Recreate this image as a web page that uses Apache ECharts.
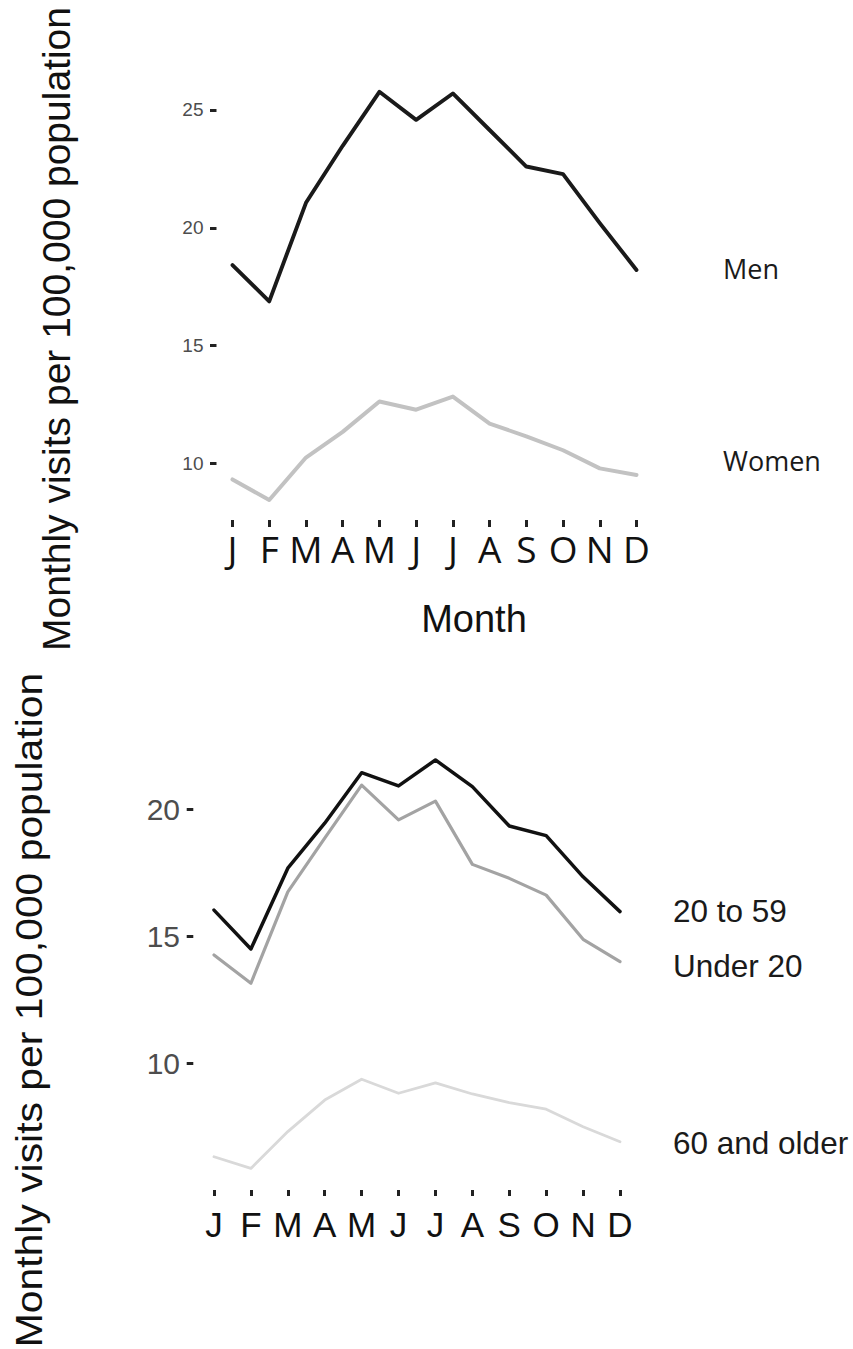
<!DOCTYPE html>
<html>
<head>
<meta charset="utf-8">
<script src="https://cdn.jsdelivr.net/npm/echarts@6/dist/echarts.min.js"></script>
<style>
  html, body { margin: 0; padding: 0; background: #fff; }
  #chart { width: 853px; height: 1349px; }
</style>
</head>
<body>
<div id="chart"></div>
<script>
// Month initials shared by both panels
const months = ['J', 'F', 'M', 'A', 'M', 'J', 'J', 'A', 'S', 'O', 'N', 'D'];

// Upper panel: visits by sex
const men   = [18.42, 16.88, 21.06, 23.48, 25.77, 24.58, 25.70, 24.15, 22.60, 22.28, 20.20, 18.21];
const women = [9.32, 8.45, 10.25, 11.34, 12.63, 12.28, 12.84, 11.69, 11.15, 10.56, 9.79, 9.51];
const topTicks = [10, 15, 20, 25];

// Lower panel: visits by age group
const age20to59   = [16.02, 14.49, 17.67, 19.44, 21.43, 20.91, 21.93, 20.88, 19.33, 18.95, 17.33, 15.96];
const under20     = [14.25, 13.14, 16.74, 18.85, 20.94, 19.57, 20.31, 17.82, 17.27, 16.61, 14.87, 13.99];
const age60plus   = [6.31, 5.85, 7.30, 8.54, 9.36, 8.81, 9.22, 8.78, 8.44, 8.18, 7.49, 6.90];
const bottomTicks = [10, 15, 20];

const yTitle = 'Monthly visits per 100,000 population';
const sans = '"Liberation Sans", Arial, sans-serif';
const humanist = '"Open Sans", sans-serif';

const chart = echarts.init(document.getElementById('chart'), null, { renderer: 'svg' });

function xAxisFor(gridIndex, font, size, margin, tickLen) {
  return {
    gridIndex, type: 'category', data: months, boundaryGap: false,
    axisLine: { show: false },
    axisTick: { show: true, length: tickLen, lineStyle: { color: '#222', width: 3 } },
    axisLabel: { interval: 0, margin, fontFamily: font, fontSize: size, color: '#111' },
    splitLine: { show: false }
  };
}

function yAxisFor(gridIndex, min, max, ticks, offset, size, margin, tickLen) {
  return {
    gridIndex, type: 'value', min, max, offset,
    axisLine: { show: false },
    axisTick: { show: true, length: tickLen, customValues: ticks, lineStyle: { color: '#222', width: 3 } },
    axisLabel: { customValues: ticks, margin, fontFamily: sans, fontSize: size, color: '#4d4d4d' },
    splitLine: { show: false }
  };
}

function line(name, data, xi, color, width) {
  return {
    name, type: 'line', data, xAxisIndex: xi, yAxisIndex: xi,
    symbol: 'none', smooth: false, silent: true,
    lineStyle: { color, width, cap: 'round', join: 'round' }
  };
}

function label(text, x, y, font, size, extra) {
  return Object.assign({
    type: 'text', x, y,
    style: { text, font: size + 'px ' + font, fill: '#1a1a1a', textAlign: 'left', textVerticalAlign: 'middle' }
  }, extra || {});
}

chart.setOption({
  animation: false,
  backgroundColor: '#fff',
  grid: [
    { left: 232.5, width: 404, top: 86.4, height: 433.6 },
    { left: 214, width: 406, top: 758.2, height: 431.8 }
  ],
  xAxis: [
    xAxisFor(0, humanist, 37, 10, 7),
    xAxisFor(1, sans, 35, 17, 6)
  ],
  yAxis: [
    yAxisFor(0, 7.6, 26, topTicks, 16, 19, 13, 6.5),
    yAxisFor(1, 5, 22, bottomTicks, 20.7, 30, 13.3, 6.6)
  ],
  series: [
    line('Men', men, 0, '#1a1a1a', 3.9),
    line('Women', women, 0, '#c2c2c2', 4),
    line('20 to 59', age20to59, 1, '#111111', 3.5),
    line('Under 20', under20, 1, '#a3a3a3', 3.2),
    line('60 and older', age60plus, 1, '#d9d9d9', 2.8)
  ],
  graphic: [
    // axis titles
    label(yTitle, 56.5, 329, sans, 39, { rotation: Math.PI / 2, style: { text: yTitle, font: '39px ' + sans, fill: '#111', textAlign: 'center', textVerticalAlign: 'middle' } }),
    label(yTitle, 28.9, 1010, sans, 37, { rotation: Math.PI / 2, scaleX: 1.104, style: { text: yTitle, font: '37px ' + sans, fill: '#111', textAlign: 'center', textVerticalAlign: 'middle' } }),
    label('Month', 474, 619, sans, 38, { style: { text: 'Month', font: '38px ' + sans, fill: '#111', textAlign: 'center', textVerticalAlign: 'middle' } }),
    // series names at the right edge
    label('Men', 723, 268, humanist, 27),
    label('Women', 723, 460, humanist, 27),
    label('20 to 59', 673, 911, sans, 31.5),
    label('Under 20', 673, 966, sans, 31.5),
    label('60 and older', 673, 1143, sans, 31.5)
  ]
});
</script>
</body>
</html>
